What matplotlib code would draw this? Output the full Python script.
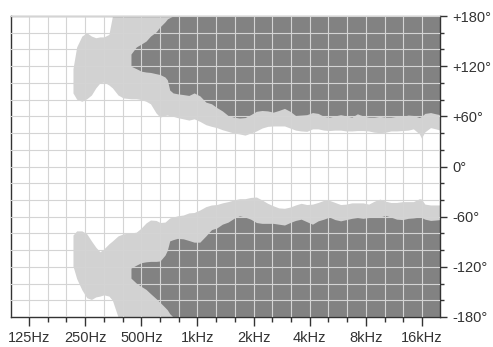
import matplotlib.pyplot as plt
from matplotlib.ticker import FixedLocator, NullFormatter

plt.rcParams['font.family'] = ['Liberation Sans', 'DejaVu Sans']

# frequency grid (Hz) the contours were read at
freq_hz = [215, 225, 240, 255, 270, 285, 300, 315, 335, 350, 375, 400,
           440, 470, 500, 530, 560, 600, 630, 670, 690, 710, 740, 780, 840, 900, 960,
           1030, 1110, 1190, 1270, 1360, 1460, 1570, 1680, 1800, 1930, 2070, 2220,
           2380, 2550, 2730, 2930, 3140, 3360, 3600, 3860, 4140, 4440, 4760, 5100,
           5470, 5860, 6280, 6730, 7210, 7730, 8290, 8880, 9520, 10200, 10900,
           11700, 12600, 13500, 14400, 15500, 15900, 16600, 17800, 19000, 20000]

# upper light band (degrees)
upper_light_top = [117, 143, 156, 160, 156, 154, 155, 155, 158] + [180] * 63
upper_light_bot = [88, 80.5, 78, 81, 85.5, 94, 100, 101, 97.5, 94, 85.5, 82,
                   81, 81, 80, 78, 75, 64, 59, 61, 61.5, 60.5, 60, 58.5, 57, 55.5, 57,
                   54, 50, 48, 46.5, 44, 42, 40, 39, 37.5, 40, 42.5, 46,
                   48, 48.5, 48.5, 48.5, 46, 43.5, 42.5, 42, 45, 45, 43.5, 43,
                   43.5, 43.5, 42.5, 42.5, 43, 43, 42.5, 41, 40.5, 41, 42.5,
                   42.5, 43, 43.5, 45, 39, 34, 41.5, 46.5, 45, 43.5]

# upper dark region, starts at 440 Hz
upper_dark_top = [134.5, 143, 146.5, 150, 156, 161, 167, 173, 176.5, 178] + [180] * 50
upper_dark_bot = [120, 117, 114, 113, 112.5, 111, 110, 107, 103.5, 91.5, 88, 87, 86, 85, 88,
                  84.5, 77, 75, 70.5, 66.5, 61, 59, 58, 58.5, 62, 66, 67,
                  66.5, 65, 67, 69.5, 66, 61, 61.5, 62, 64.5, 63.5, 60, 59,
                  60.5, 62, 60.5, 59, 63, 60.5, 59, 59, 60, 59, 59,
                  60, 60, 61.5, 61, 58.5, 60, 63.5, 64.5, 63, 62]

# lower light band
lower_light_top = [-82, -77, -77, -80.5, -89, -96.5, -102, -98.5, -92.5, -89, -83, -80.5,
                   -79.5, -78.5, -73.5, -67.5, -64, -64.5, -67, -66.5, -64, -61.5, -60.5, -59, -58, -55.5, -55,
                   -52, -48, -46, -45.5, -43.5, -42, -40, -38.5, -38.5, -37, -36.5, -40,
                   -44, -47, -49.5, -50, -48.5, -46, -44, -45.5, -45, -43, -40.5, -40.5,
                   -43, -45.5, -45, -43.5, -43.5, -43.5, -45, -41.5, -39, -41.5, -43,
                   -43, -42, -42, -42, -38.5, -39, -45, -46, -46, -46]
lower_light_bot = [-119, -134, -147.5, -157, -159, -156, -155, -153.5, -155, -160] + [-180] * 62

# lower dark region, starts at 440 Hz
lower_dark_top = [-121.5, -118, -115, -114, -113.5, -113.5, -113, -106, -100, -89, -87.5, -86, -86.5, -88.5, -90.5,
                  -90.5, -83, -75.5, -73.5, -69, -66.5, -62, -59, -60.5, -63, -67, -68,
                  -68, -68, -69, -70, -67, -64.5, -63, -66, -69, -65, -63, -60.5,
                  -63.5, -65, -63.5, -62, -61, -62, -61, -61, -60.5, -58.5, -60.5,
                  -63, -63.5, -62, -61.5, -60.5, -61, -63, -64.5, -64, -63.5]
lower_dark_bot = [-133.5, -139.5, -143.5, -147, -152, -158, -162.5, -168.5, -171.5, -176] + [-180] * 50

octave_labels = ['125Hz', '250Hz', '500Hz', '1kHz', '2kHz', '4kHz', '8kHz', '16kHz']
octave_freqs = [125, 250, 500, 1000, 2000, 4000, 8000, 16000]
angle_ticks = [180, 120, 60, 0, -60, -120, -180]
angle_labels = ['+180°', '+120°', '+60°', '0°', '-60°', '-120°', '-180°']

LIGHT = '#d2d2d2'
DARK = '#828282'
GRID = '#d4d4d4'
INK = '#333333'

fig = plt.figure(figsize=(4.93, 3.47), dpi=100)
ax = fig.add_axes([11 / 493, 30 / 347, 429 / 493, 301 / 347])

start = freq_hz.index(440)
dark_freq = freq_hz[start:]

ax.fill_between(freq_hz, upper_light_bot, upper_light_top, color=LIGHT, lw=0, zorder=1)
ax.fill_between(freq_hz, lower_light_bot, lower_light_top, color=LIGHT, lw=0, zorder=1)
ax.fill_between(dark_freq, upper_dark_bot, upper_dark_top, color=DARK, lw=0, zorder=1.1)
ax.fill_between(dark_freq, lower_dark_bot, lower_dark_top, color=DARK, lw=0, zorder=1.1)

ax.set_xscale('log')
ax.set_xlim(100, 20000)
ax.set_ylim(-180, 180)

third_octaves = [1000 * 2 ** (k / 3) for k in range(-10, 14)]
ax.xaxis.set_major_locator(FixedLocator(octave_freqs))
ax.xaxis.set_minor_locator(FixedLocator([f for f in third_octaves
                                         if min(abs(f - o) for o in octave_freqs) > 1]))
ax.set_xticklabels(octave_labels)
ax.xaxis.set_minor_formatter(NullFormatter())

ax.yaxis.set_major_locator(FixedLocator(angle_ticks))
ax.yaxis.set_minor_locator(FixedLocator(list(range(-160, 180, 20))))
ax.set_yticklabels(angle_labels)
ax.tick_params(axis='y', which='both', left=False, right=True,
               labelleft=False, labelright=True)

ax.set_axisbelow(False)
ax.grid(True, which='both', color=GRID, lw=0.8)

ax.tick_params(axis='x', which='major', length=6.5, width=1, color=INK,
               labelsize=10.5, labelcolor=INK, pad=3.5)
ax.tick_params(axis='x', which='minor', length=3.6, width=1, color=INK)
ax.tick_params(axis='y', which='major', length=5, width=1, color=INK,
               labelsize=10.5, labelcolor=INK, pad=4)
ax.tick_params(axis='y', which='minor', length=3, width=1, color=INK)

for side in ['left', 'bottom', 'right']:
    ax.spines[side].set_color(INK)
    ax.spines[side].set_linewidth(1.0)
ax.spines['top'].set_color('#808080')
ax.spines['top'].set_linewidth(1.0)

fig.savefig('out.png', dpi=100)
